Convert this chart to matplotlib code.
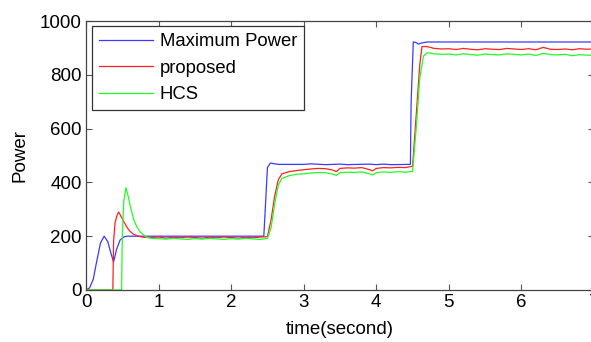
import matplotlib
matplotlib.use("Agg")
import matplotlib.pyplot as plt
import numpy as np

plt.rcParams['font.family'] = ['Liberation Sans', 'DejaVu Sans']

# ---- data ----
t_max = [0, 0.05, 0.1, 0.15, 0.2, 0.25, 0.3, 0.34, 0.38, 0.42, 0.47, 0.52, 0.56, 0.65,
         1.0, 1.5, 2.0, 2.45, 2.47, 2.5, 2.54, 2.58, 2.65, 3.0, 3.1, 3.3, 3.5, 3.6,
         3.9, 4.0, 4.1, 4.2, 4.47, 4.48, 4.51, 4.55, 4.58, 4.62, 4.7, 5.0, 6.0, 7.0]
p_max = [0, 8, 40, 110, 175, 200, 180, 140, 104, 150, 186, 197, 200, 200,
         200, 200, 200, 200, 300, 455, 472, 470, 467, 467, 469, 466, 468, 466,
         468, 466, 468, 466, 467, 700, 922, 920, 914, 918, 922, 922, 922, 922]

t_prop = [0, 0.37, 0.38, 0.40, 0.43, 0.45, 0.48, 0.52, 0.56, 0.6, 0.65, 0.7, 0.75,
          0.8, 0.9, 1.0, 1.1, 1.2, 1.3, 1.4, 1.5, 1.6, 1.7, 1.8, 1.9, 2.0, 2.1, 2.2,
          2.3, 2.4, 2.5, 2.55, 2.6, 2.65, 2.7, 2.8, 2.9, 3.0, 3.1, 3.2, 3.3, 3.4,
          3.45, 3.5, 3.6, 3.7, 3.8, 3.9, 3.95, 4.0, 4.1, 4.2, 4.3, 4.4, 4.5, 4.55,
          4.6, 4.63, 4.7, 4.8, 4.9, 5.0, 5.1, 5.2, 5.3, 5.4, 5.5, 5.6, 5.7, 5.8,
          5.9, 6.0, 6.1, 6.2, 6.3, 6.4, 6.5, 6.6, 6.7, 6.8, 6.9, 7.0]
p_prop = [0, 0, 180, 250, 280, 290, 275, 255, 235, 220, 208, 202, 198,
          196, 195, 197, 193, 196, 194, 197, 195, 193, 196, 194, 197, 195, 193, 196,
          194, 197, 198, 260, 350, 410, 432, 440, 444, 447, 450, 452, 451, 446,
          440, 452, 454, 453, 455, 448, 443, 452, 455, 454, 456, 455, 460, 650,
          840, 905, 905, 898, 896, 897, 894, 898, 895, 893, 897, 895, 894, 898,
          896, 894, 897, 893, 902, 895, 894, 896, 893, 897, 895, 896]

t_hcs = [0, 0.49, 0.50, 0.52, 0.55, 0.58, 0.62, 0.66, 0.7, 0.75, 0.8, 0.85, 0.9,
         1.0, 1.1, 1.2, 1.3, 1.4, 1.5, 1.6, 1.7, 1.8, 1.9, 2.0, 2.1, 2.2, 2.3, 2.4,
         2.5, 2.55, 2.6, 2.65, 2.7, 2.8, 2.9, 3.0, 3.1, 3.2, 3.3, 3.4, 3.45, 3.5,
         3.6, 3.7, 3.8, 3.9, 3.95, 4.0, 4.1, 4.2, 4.3, 4.4, 4.5, 4.55, 4.6, 4.65,
         4.7, 4.8, 4.9, 5.0, 5.1, 5.2, 5.3, 5.4, 5.5, 5.6, 5.7, 5.8, 5.9, 6.0, 6.1,
         6.2, 6.3, 6.4, 6.5, 6.6, 6.7, 6.8, 6.9, 7.0]
p_hcs = [0, 0, 200, 330, 380, 350, 300, 260, 235, 215, 203, 195, 192,
         191, 189, 192, 190, 188, 191, 189, 192, 190, 188, 191, 189, 192, 190, 188,
         192, 230, 320, 390, 415, 425, 430, 432, 435, 437, 436, 431, 426, 436,
         438, 437, 439, 432, 428, 436, 439, 437, 440, 438, 441, 600, 790, 870,
         882, 878, 876, 877, 874, 878, 875, 873, 877, 875, 874, 878, 876, 874, 877,
         872, 880, 875, 874, 876, 871, 875, 873, 872]

series_labels = ['Maximum Power', 'proposed', 'HCS']
x_ticks = [0, 1, 2, 3, 4, 5, 6, 7]
y_ticks = [0, 200, 400, 600, 800, 1000]

# ---- figure ----
W, H = 591, 342
fig = plt.figure(figsize=(W / 100, H / 100), dpi=100)
ax = fig.add_axes([86 / W, (H - 290) / H, 508 / W, 269 / H])

ax.plot(t_max, p_max, color='#3a3aff', lw=0.9, label=series_labels[0])
ax.plot(t_prop, p_prop, color='#ff2020', lw=0.9, label=series_labels[1])
ax.plot(t_hcs, p_hcs, color='#20ff20', lw=0.9, label=series_labels[2])

ax.set_xlim(0, 7)
ax.set_ylim(0, 1000)
ax.set_xticks(x_ticks)
ax.set_yticks(y_ticks)
ax.tick_params(direction='in', top=True, right=True, labelsize=13.5,
               length=4, width=0.8, color='#555555', pad=3)
for s in ax.spines.values():
    s.set_color('#444444')
    s.set_linewidth(0.9)

ax.set_xlabel('time(second)', fontsize=13.5, labelpad=7)
ax.set_ylabel('Power', fontsize=13.5, labelpad=8)

leg = ax.legend(loc='upper left', bbox_to_anchor=(0.012, 0.981), fontsize=13.3,
                handlelength=2.9, handletextpad=0.35, labelspacing=0.5,
                borderaxespad=0, borderpad=0.4, fancybox=False, framealpha=1)
leg.get_frame().set_edgecolor('#333333')
leg.get_frame().set_linewidth(0.9)

fig.savefig('out.png', dpi=100)
